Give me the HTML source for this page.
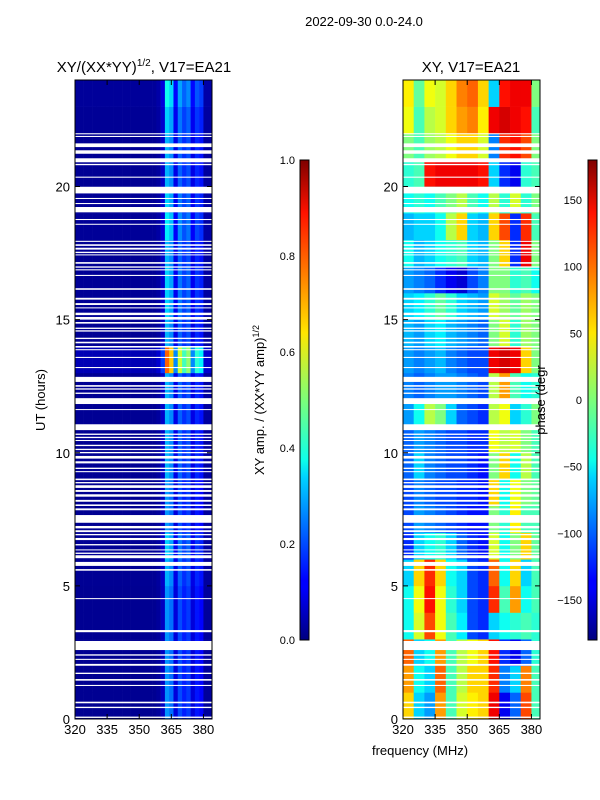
<!DOCTYPE html>
<html><head><meta charset="utf-8"><style>
body{margin:0;background:#fff;}
svg{display:block;font-family:"Liberation Sans",sans-serif;}
</style></head><body>
<svg id="fig" width="600" height="800" viewBox="0 0 600 800">
<defs>
<linearGradient id="jetV" x1="0" y1="1" x2="0" y2="0">
<stop offset="0" stop-color="#00007f"/><stop offset="0.11" stop-color="#0000ff"/><stop offset="0.125" stop-color="#0000ff"/><stop offset="0.34" stop-color="#00d4ff"/><stop offset="0.375" stop-color="#0dffea"/><stop offset="0.5" stop-color="#7cff79"/><stop offset="0.64" stop-color="#ffe600"/><stop offset="0.66" stop-color="#ffd400"/><stop offset="0.89" stop-color="#ff1200"/><stop offset="1" stop-color="#7f0000"/>
</linearGradient>
</defs>
<text x="364" y="26" font-size="13" text-anchor="middle">2022-09-30 0.0-24.0</text>
<text x="144" y="72" font-size="15" text-anchor="middle">XY/(XX*YY)<tspan font-size="10" dy="-6">1/2</tspan><tspan dy="6">, V17=EA21</tspan></text>
<text x="471" y="72" font-size="15" text-anchor="middle">XY, V17=EA21</text>
<g id="leftHeat"></g>
<g id="rightHeat"></g>
<g id="axes"></g>
<rect x="300" y="160" width="9" height="480" fill="url(#jetV)" stroke="#000" stroke-width="1"/>
<rect x="588" y="160" width="9" height="480" fill="url(#jetV)" stroke="#000" stroke-width="1"/>
<text transform="translate(45,400) rotate(-90)" font-size="13" text-anchor="middle">UT (hours)</text>
<text transform="translate(264,400) rotate(-90)" font-size="13" text-anchor="middle">XY amp. / (XX*YY amp)<tspan font-size="9" dy="-5">1/2</tspan></text>
<text transform="translate(545,400) rotate(-90)" font-size="13" text-anchor="middle">phase (degr</text>
<text x="420" y="755" font-size="13" text-anchor="middle">frequency (MHz)</text>
</svg>
<script>
// ---- data ----
const hours = [0,1,2,3,4,5,6,7,8,9,10,11,12,13,14,15,16,17,18,19,20,21,22,23];
const ampFreqEdges = [320,322,324,326,328,330,332,334,336,338,340,342,344,346,348,350,352,354,356,358,360,362,364,366,368,370,372,374,376,378,380,382,384];
const ampProfile = [0.02,0.02,0.02,0.02,0.02,0.02,0.02,0.02,0.02,0.02,0.02,0.02,0.02,0.02,0.02,0.02,0.02,0.02,0.02,0.03,0.07,0.3,0.26,0.1,0.22,0.17,0.2,0.1,0.16,0.14,0.03,0.03];
const ampHourScale = [0.9,0.9,0.9,0.9,0.9,1.0,1.1,0.9,0.9,1.0,1.0,1.0,1.0,2.6,1.0,1.1,1.1,1.0,1.2,1.1,1.0,1.0,1.1,1.3];
const phaseFreqEdges = [320,325,330,335,340,345,350,355,360,365,370,375,380,384];
const phaseGrid = [
 [60,-60,-80,80,-20,30,50,60,140,-140,-100,110,-20],
 [80,-40,-60,100,-20,20,60,60,120,-90,-60,90,-20],
 [100,-60,-40,80,-20,20,40,60,130,-120,-140,-100,-30],
 [-40,30,110,40,-20,-50,-110,-120,-60,-40,-30,-20,-30],
 [-40,40,130,40,-30,-60,-110,-120,120,-20,80,-40,-20],
 [-60,60,120,60,-40,-60,-110,-120,100,-40,60,-60,-20],
 [-120,-60,-40,-30,-60,-100,-120,-130,30,-40,0,60,-10],
 [-110,-80,-90,-100,-110,-120,-130,-130,0,-30,50,-20,-20],
 [-110,-90,-100,-110,-110,-120,-120,-130,60,-40,40,0,-10],
 [-100,-60,-90,-100,-110,-110,-120,-130,0,60,-40,20,-20],
 [-100,-80,-90,-100,-110,-110,-120,-120,40,20,30,0,-20],
 [-80,-40,20,0,-60,-100,-110,-120,20,40,-60,-30,0],
 [-90,-100,-90,-80,-80,-90,-100,-110,20,80,-20,-40,-30],
 [-80,-90,-80,-70,-90,-100,-110,-110,140,150,140,60,0],
 [-70,-80,-60,-50,-70,-80,-90,-100,0,30,-30,10,0],
 [-60,-50,-30,-10,-30,-60,-70,-80,30,10,-10,10,0],
 [-80,-90,-100,-120,-140,-150,-110,-90,0,0,-30,-20,-40],
 [-40,-70,-60,-40,-30,-20,-60,-70,0,60,-120,140,0],
 [-70,-60,-60,-40,20,60,-60,-70,60,110,-120,120,-20],
 [-40,-30,-40,-20,0,20,-20,-40,20,-30,30,-30,0],
 [-30,-20,130,140,140,140,140,130,-60,-120,-140,-30,-20],
 [0,-20,10,20,40,60,60,30,-90,120,130,110,0],
 [40,-20,20,30,60,80,90,50,140,150,140,130,-20],
 [50,-10,40,30,60,90,100,60,-60,130,140,140,0]
];
const gaps = [[21.96,22.00],[21.86,21.90],[21.48,21.62],[21.23,21.36],[20.91,21.06],[20.80,20.85],[20.33,20.37],[19.74,19.99],[19.53,19.57],[19.34,19.38],[19.03,19.23],[18.74,18.78],[18.57,18.60],[17.92,17.96],[17.77,17.83],[17.63,17.70],[17.50,17.55],[17.42,17.45],[17.10,17.16],[16.95,17.00],[16.85,16.89],[16.64,16.68],[16.12,16.18],[15.75,15.82],[15.55,15.62],[15.43,15.46],[15.17,15.26],[15.00,15.10],[14.85,14.91],[14.65,14.70],[14.55,14.60],[14.27,14.32],[14.11,14.17],[13.95,14.01],[13.85,13.89],[13.56,13.60],[13.18,13.22],[12.66,12.85],[12.48,12.54],[12.37,12.42],[12.21,12.26],[11.83,12.05],[11.61,11.64],[10.85,11.07],[10.67,10.72],[10.55,10.60],[10.44,10.48],[10.25,10.30],[10.10,10.15],[9.98,10.03],[9.78,9.88],[9.60,9.68],[9.39,9.44],[9.27,9.31],[8.97,9.03],[8.85,8.90],[8.68,8.78],[8.53,8.60],[8.35,8.44],[8.16,8.23],[8.00,8.06],[7.84,7.91],[7.37,7.66],[7.16,7.25],[7.02,7.09],[6.90,6.95],[6.72,6.80],[6.52,6.57],[6.34,6.37],[6.20,6.25],[6.04,6.15],[5.75,5.90],[5.57,5.63],[4.51,4.54],[3.26,3.34],[2.59,2.93],[2.38,2.43],[2.22,2.26],[2.00,2.07],[1.69,1.74],[1.44,1.50],[1.24,1.28],[0.59,0.65],[0.41,0.46],[0.04,0.09]];
const xTicks = [320,335,350,365,380];
const yTicks = [0,5,10,15,20];
const ampTicks = [0.0,0.2,0.4,0.6,0.8,1.0];
const phaseTicks = [-150,-100,-50,0,50,100,150];

// ---- helpers ----
const NS = "http://www.w3.org/2000/svg";
const PANELS = [{x0:75,x1:212},{x0:403,x1:540}];
const Y0 = 719, Y1 = 80, FMIN = 320, FMAX = 384, HMAX = 24;
function xs(p,f){return PANELS[p].x0 + (f-FMIN)/(FMAX-FMIN)*(PANELS[p].x1-PANELS[p].x0);}
function ys(h){return Y0 - h/HMAX*(Y0-Y1);}
function cl(v){return Math.max(0,Math.min(1,v));}
function jet(v){v=cl(v);const r=cl(1.5-Math.abs(4*v-3)),g=cl(1.5-Math.abs(4*v-2)),b=cl(1.5-Math.abs(4*v-1));return `rgb(${Math.round(r*255)},${Math.round(g*255)},${Math.round(b*255)})`;}
function mk(tag,attrs,parent){const e=document.createElementNS(NS,tag);for(const k in attrs)e.setAttribute(k,attrs[k]);parent.appendChild(e);return e;}

// ---- amplitude heatmap ----
const L = document.getElementById('leftHeat');
hours.forEach((h,i)=>{
  for(let j=0;j<ampProfile.length;j++){
    const xa=xs(0,ampFreqEdges[j]), xb=xs(0,ampFreqEdges[j+1]);
    const r = mk('rect',{x:xa,y:ys(h+1),width:xb-xa+0.3,height:ys(h)-ys(h+1)+0.3,fill:jet(ampProfile[j]*ampHourScale[i])},L);
    
    
  }
});
// ---- phase heatmap ----
const R = document.getElementById('rightHeat');
hours.forEach((h,i)=>{
  for(let j=0;j<phaseGrid[i].length;j++){
    const xa=xs(1,phaseFreqEdges[j]), xb=xs(1,phaseFreqEdges[j+1]);
    const r = mk('rect',{x:xa,y:ys(h+1),width:xb-xa+0.3,height:ys(h)-ys(h+1)+0.3,fill:jet((phaseGrid[i][j]+180)/360)},R);
    
    
  }
});
// ---- flagged gaps ----
[L,R].forEach((g,p)=>{
  gaps.forEach(gp=>{
    const r = mk('rect',{x:PANELS[p].x0,y:ys(gp[1]),width:PANELS[p].x1-PANELS[p].x0,height:Math.max(1,ys(gp[0])-ys(gp[1])),fill:'#fff'},g);
    
    
  });
});
// ---- axes ----
const A = document.getElementById('axes');
PANELS.forEach((P,p)=>{
  const fr = mk('rect',{x:P.x0,y:Y1,width:P.x1-P.x0,height:Y0-Y1,fill:'none',stroke:'#000','stroke-width':1},A);
  
  
  xTicks.forEach(t=>{
    const x=xs(p,t);
    mk('line',{x1:x,y1:Y0,x2:x,y2:Y0-5,stroke:'#000'},A);
    mk('line',{x1:x,y1:Y1,x2:x,y2:Y1+5,stroke:'#000'},A);
    const tx = mk('text',{x:x,y:Y0+15,'font-size':13,'text-anchor':'middle'},A);
    tx.textContent=t;
    
    
  });
  yTicks.forEach(t=>{
    const y=ys(t);
    mk('line',{x1:P.x0,y1:y,x2:P.x0+5,y2:y,stroke:'#000'},A);
    mk('line',{x1:P.x1,y1:y,x2:P.x1-5,y2:y,stroke:'#000'},A);
    const tx = mk('text',{x:P.x0-5,y:y+5,'font-size':13,'text-anchor':'end'},A);
    tx.textContent=t;
    
    
  });
});
ampTicks.forEach(t=>{
  const y=640-t*480;
  mk('line',{x1:300,y1:y,x2:303,y2:y,stroke:'#000'},A);
  const tx = mk('text',{x:295,y:y+4,'font-size':11,'text-anchor':'end'},A);
  tx.textContent=t.toFixed(1);
  
  
});
phaseTicks.forEach(t=>{
  const y=640-(t+180)/360*480;
  mk('line',{x1:588,y1:y,x2:591,y2:y,stroke:'#000'},A);
  const tx = mk('text',{x:582,y:y+4,'font-size':11,'text-anchor':'end'},A);
  tx.textContent=(t<0?'\u2212'+(-t):String(t));
  
  
});
</script>
</body></html>
